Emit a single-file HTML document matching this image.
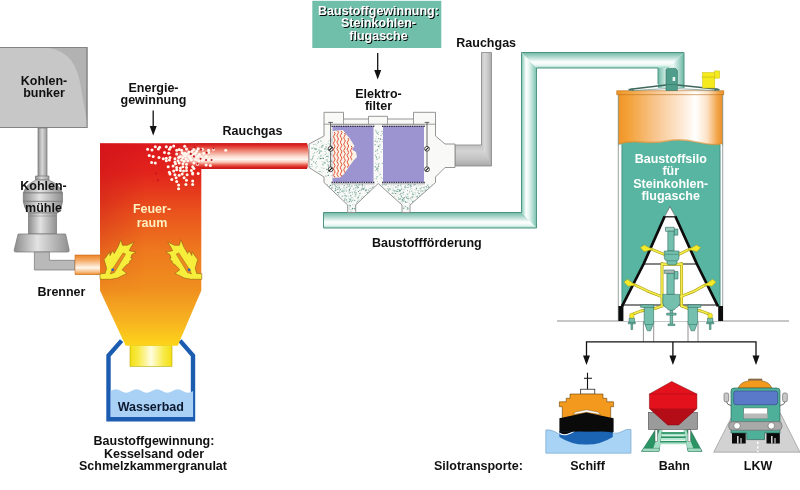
<!DOCTYPE html>
<html lang="de"><head><meta charset="utf-8"><title>Kraftwerk Schema</title>
<style>
html,body{margin:0;padding:0;background:#fff}
svg{display:block;opacity:.999}
text{font-family:"Liberation Sans",sans-serif;font-weight:bold;font-size:12.5px;fill:#111}
.c{text-anchor:middle}
</style></head><body>
<svg width="800" height="490" viewBox="0 0 800 490">
<defs>
<linearGradient id="gShaft" x1="0" x2="1" y1="0" y2="0"><stop offset="0" stop-color="#8e8e8e"/><stop offset=".45" stop-color="#d8d8d8"/><stop offset="1" stop-color="#9a9a9a"/></linearGradient>
<linearGradient id="gMill" x1="0" x2="1" y1="0" y2="0"><stop offset="0" stop-color="#8c8c8c"/><stop offset=".42" stop-color="#e2e2e2"/><stop offset="1" stop-color="#909090"/></linearGradient>
<linearGradient id="gPipeH" x1="0" x2="0" y1="0" y2="1"><stop offset="0" stop-color="#9a9a9a"/><stop offset=".4" stop-color="#d0d0d0"/><stop offset="1" stop-color="#9a9a9a"/></linearGradient>
<linearGradient id="gBurn" x1="0" x2="0" y1="0" y2="1"><stop offset="0" stop-color="#ee8424"/><stop offset=".3" stop-color="#f6b070"/><stop offset=".65" stop-color="#fff6ec"/><stop offset=".85" stop-color="#f8c088"/><stop offset="1" stop-color="#ee8a2a"/></linearGradient>
<linearGradient id="gFire" x1="0" x2="0" y1="0" y2="1"><stop offset="0" stop-color="#dc181c"/><stop offset=".147" stop-color="#e2241c"/><stop offset=".345" stop-color="#ea541d"/><stop offset=".537" stop-color="#ee7a1e"/><stop offset=".725" stop-color="#f0901f"/><stop offset=".873" stop-color="#f7b220"/><stop offset="1" stop-color="#fdd41a"/></linearGradient>
<linearGradient id="gFireL" x1="0" x2="1" y1="0" y2="0"><stop offset="0" stop-color="#c8101a" stop-opacity=".4"/><stop offset=".45" stop-color="#c8101a" stop-opacity="0"/></linearGradient>
<linearGradient id="gDuct" x1="0" x2="0" y1="0" y2="1"><stop offset="0" stop-color="#c8181a"/><stop offset=".08" stop-color="#de2824"/><stop offset=".3" stop-color="#ee8a78"/><stop offset=".5" stop-color="#fbd8cc"/><stop offset=".63" stop-color="#fff4ee"/><stop offset=".74" stop-color="#f8c4b6"/><stop offset=".84" stop-color="#e8604e"/><stop offset=".93" stop-color="#d82220"/><stop offset="1" stop-color="#c41818"/></linearGradient>
<linearGradient id="gDuctFade" x1="0" x2="1" y1="0" y2="0"><stop offset="0" stop-color="#fff" stop-opacity="0"/><stop offset="1" stop-color="#fff" stop-opacity="1"/></linearGradient>
<linearGradient id="gFadeV" x1="0" x2="0" y1="0" y2="1"><stop offset="0" stop-color="#fff"/><stop offset=".3" stop-color="#fff"/><stop offset=".75" stop-color="#000"/></linearGradient><mask id="mFireL"><rect x="90" y="140" width="125" height="210" fill="url(#gFadeV)"/></mask><mask id="mDuct"><rect x="174" y="140" width="28" height="32" fill="url(#gDuctFade)"/><rect x="201.5" y="140" width="120" height="32" fill="#fff"/></mask>
<linearGradient id="gNeck" x1="0" x2="1" y1="0" y2="0"><stop offset="0" stop-color="#f3df14"/><stop offset=".2" stop-color="#f8ea48"/><stop offset=".5" stop-color="#fffde0"/><stop offset=".8" stop-color="#f8ea48"/><stop offset="1" stop-color="#f3df14"/></linearGradient>
</defs>
<rect width="800" height="490" fill="#fff"/>

<!-- Kohlenbunker -->
<g id="bunker">
<rect x="-1" y="47.5" width="88" height="80" fill="#b2b2b2" stroke="#848484" stroke-width="1"/>
<path d="M0,48 H49 Q62,50 71,60 Q78.5,70 81.6,91 L87,122 V127.5 H0 Z" fill="#c7c7c7"/>
<rect x="-1" y="47.5" width="88" height="80" fill="none" stroke="#848484" stroke-width="1"/>
<text class="c" x="44" y="85.3">Kohlen-</text>
<text class="c" x="44" y="96.8">bunker</text>
</g>

<!-- Kohlenmuehle -->
<g id="muehle" stroke="#767676" stroke-width=".7" stroke-linejoin="round">
<rect x="38" y="128" width="9" height="49" fill="url(#gShaft)"/>
<rect x="35.5" y="176" width="13.5" height="4" fill="url(#gShaft)"/>
<path d="M36.5,180 H48 Q59,183.5 62.5,193 H23.3 Q26.5,183.5 36.5,180 Z" fill="url(#gMill)"/>
<rect x="23.3" y="193" width="39.2" height="8.4" fill="url(#gMill)"/>
<path d="M23.3,201.4 H62.5 Q62,208 57.8,213 H28.5 Q24,208 23.3,201.4 Z" fill="url(#gMill)"/>
<rect x="28.5" y="213" width="28" height="21" fill="url(#gMill)"/>
<path d="M28.5,216 H56.5" fill="none" stroke-width=".5"/>
<path d="M18.1,234 H65.6 L69.2,250 Q69.6,252 67.6,252 H15.8 Q13.8,252 14.2,250 Z" fill="url(#gMill)"/>
<path d="M34.4,252 V270 H75 V260.3 H49.4 V252 Z" fill="#b9b9b9"/>
</g>
<text class="c" x="43.5" y="190">Kohlen-</text>
<text class="c" x="43.5" y="212">mühle</text>
<rect x="75" y="255" width="25.5" height="19.7" fill="url(#gBurn)" stroke="#b86010" stroke-width=".5"/>
<text x="37.5" y="296">Brenner</text>

<!-- Wasserbad -->
<g id="wasserbad">
<path d="M121.6,340.6 L108.5,355.5 V419.2 H193 V355.5 L180,340.6" fill="#fff" stroke="#1b5cb0" stroke-width="4.4" stroke-linejoin="miter"/>
<path d="M110.7,391 q5.2,-3.6 10.3,0 t10.3,0 t10.3,0 t10.3,0 t10.3,0 t10.3,0 t10.3,0 t10.3,0 V417 H110.7 Z" fill="#a9d1f5"/>
<rect x="130" y="345.7" width="42" height="20.6" fill="url(#gNeck)" stroke="#b8a800" stroke-width=".6"/>
<text class="c" x="150.8" y="410.6" style="fill:#0c1830">Wasserbad</text>
</g>
<!-- Feuerraum -->
<g id="feuerraum">
<path id="fshape" d="M100,143.3 H307 Q310.5,156 307,169 H201.3 V290.5 L177.7,345.7 H125.7 L100,290.5 Z" fill="url(#gFire)"/>
<path d="M100,143.3 H201.3 V290.5 L177.7,345.7 H125.7 L100,290.5 Z" fill="url(#gFireL)" mask="url(#mFireL)"/>
<path d="M172,143.3 H307 Q310.5,156 307,169 H201.3 V168 H172 Z" fill="url(#gDuct)" mask="url(#mDuct)"/>
<defs><radialGradient id="gGlow"><stop offset="0" stop-color="#fff" stop-opacity=".75"/><stop offset="1" stop-color="#fff" stop-opacity="0"/></radialGradient></defs>
<ellipse cx="190" cy="156" rx="14" ry="7" fill="url(#gGlow)"/>
<!-- Particles -->
<g id="particles" fill="#fff8ee">
<circle cx="155.3" cy="146.8" r="1.5"/>
<circle cx="159.6" cy="147.2" r="1.5"/>
<circle cx="166.3" cy="146.8" r="1.5"/>
<circle cx="170.6" cy="147.2" r="1.5"/>
<circle cx="173.7" cy="146.0" r="1.5"/>
<circle cx="184.7" cy="146.3" r="1.5"/>
<circle cx="147.6" cy="149.3" r="1.5"/>
<circle cx="152.0" cy="150.0" r="1.5"/>
<circle cx="158.4" cy="149.0" r="1.5"/>
<circle cx="169.4" cy="149.3" r="1.5"/>
<circle cx="176.7" cy="150.2" r="1.5"/>
<circle cx="179.2" cy="149.6" r="1.5"/>
<circle cx="186.5" cy="149.0" r="1.5"/>
<circle cx="193.9" cy="149.6" r="1.5"/>
<circle cx="198.2" cy="148.8" r="1.5"/>
<circle cx="202.4" cy="149.3" r="1.5"/>
<circle cx="208.6" cy="150.2" r="1.5"/>
<circle cx="213.5" cy="149.3" r="1.5"/>
<circle cx="225.7" cy="150.2" r="1.5"/>
<circle cx="164.5" cy="152.4" r="1.5"/>
<circle cx="168.8" cy="153.3" r="1.5"/>
<circle cx="182.2" cy="152.7" r="1.5"/>
<circle cx="184.7" cy="153.3" r="1.5"/>
<circle cx="189.0" cy="152.1" r="1.5"/>
<circle cx="195.7" cy="152.7" r="1.5"/>
<circle cx="203.7" cy="153.3" r="1.5"/>
<circle cx="208.6" cy="152.4" r="1.5"/>
<circle cx="149.2" cy="155.4" r="1.5"/>
<circle cx="153.2" cy="156.4" r="1.5"/>
<circle cx="159.0" cy="157.6" r="1.5"/>
<circle cx="163.3" cy="158.8" r="1.5"/>
<circle cx="166.3" cy="158.2" r="1.5"/>
<circle cx="170.0" cy="157.6" r="1.5"/>
<circle cx="174.9" cy="158.8" r="1.5"/>
<circle cx="180.4" cy="156.4" r="1.5"/>
<circle cx="185.3" cy="155.8" r="1.5"/>
<circle cx="189.0" cy="156.4" r="1.5"/>
<circle cx="192.7" cy="155.1" r="1.5"/>
<circle cx="197.5" cy="156.4" r="1.5"/>
<circle cx="201.2" cy="157.6" r="1.5"/>
<circle cx="206.1" cy="156.4" r="1.5"/>
<circle cx="166.3" cy="160.7" r="1.5"/>
<circle cx="169.4" cy="160.0" r="1.5"/>
<circle cx="174.9" cy="161.9" r="1.5"/>
<circle cx="178.0" cy="160.7" r="1.5"/>
<circle cx="181.6" cy="160.0" r="1.5"/>
<circle cx="184.1" cy="161.3" r="1.5"/>
<circle cx="187.8" cy="160.7" r="1.5"/>
<circle cx="191.4" cy="160.0" r="1.5"/>
<circle cx="195.7" cy="159.4" r="1.5"/>
<circle cx="198.8" cy="160.7" r="1.5"/>
<circle cx="202.4" cy="160.0" r="1.5"/>
<circle cx="208.6" cy="159.4" r="1.5"/>
<circle cx="212.2" cy="160.0" r="1.5"/>
<circle cx="151.6" cy="162.5" r="1.5"/>
<circle cx="155.3" cy="163.1" r="1.5"/>
<circle cx="175.5" cy="163.7" r="1.5"/>
<circle cx="179.2" cy="163.1" r="1.5"/>
<circle cx="182.9" cy="163.7" r="1.5"/>
<circle cx="186.5" cy="164.3" r="1.5"/>
<circle cx="193.9" cy="163.1" r="1.5"/>
<circle cx="197.5" cy="164.3" r="1.5"/>
<circle cx="168.2" cy="166.8" r="1.5"/>
<circle cx="173.1" cy="165.9" r="1.5"/>
<circle cx="176.7" cy="167.4" r="1.5"/>
<circle cx="180.4" cy="168.0" r="1.5"/>
<circle cx="182.9" cy="166.8" r="1.5"/>
<circle cx="186.5" cy="167.4" r="1.5"/>
<circle cx="192.7" cy="166.8" r="1.5"/>
<circle cx="193.9" cy="168.6" r="1.5"/>
<circle cx="206.1" cy="164.9" r="1.5"/>
<circle cx="210.4" cy="165.5" r="1.5"/>
<circle cx="169.4" cy="172.3" r="1.5"/>
<circle cx="173.7" cy="171.1" r="1.5"/>
<circle cx="176.7" cy="169.8" r="1.5"/>
<circle cx="180.4" cy="170.4" r="1.5"/>
<circle cx="183.5" cy="171.1" r="1.5"/>
<circle cx="186.5" cy="170.4" r="1.5"/>
<circle cx="191.4" cy="170.4" r="1.5"/>
<circle cx="192.7" cy="172.9" r="1.5"/>
<circle cx="198.2" cy="173.5" r="1.5"/>
<circle cx="170.0" cy="174.1" r="1.5"/>
<circle cx="174.9" cy="174.7" r="1.5"/>
<circle cx="179.2" cy="175.3" r="1.5"/>
<circle cx="182.2" cy="174.1" r="1.5"/>
<circle cx="187.1" cy="174.7" r="1.5"/>
<circle cx="192.7" cy="174.1" r="1.5"/>
<circle cx="171.8" cy="179.6" r="1.5"/>
<circle cx="176.1" cy="177.8" r="1.5"/>
<circle cx="176.7" cy="181.5" r="1.5"/>
<circle cx="184.1" cy="177.8" r="1.5"/>
<circle cx="186.5" cy="180.2" r="1.5"/>
<circle cx="192.7" cy="180.9" r="1.5"/>
<circle cx="178.6" cy="185.1" r="1.5"/>
<circle cx="178.6" cy="188.8" r="1.5"/>
<circle cx="185.9" cy="184.5" r="1.5"/>
<circle cx="192.7" cy="184.5" r="1.5"/>
<circle cx="181.6" cy="150.2" r="1.5"/>
<circle cx="183.5" cy="154.5" r="1.5"/>
<circle cx="187.1" cy="153.9" r="1.5"/>
<circle cx="190.2" cy="158.2" r="1.5"/>
<circle cx="192.0" cy="151.5" r="1.5"/>
<circle cx="194.5" cy="153.9" r="1.5"/>
<circle cx="196.9" cy="150.9" r="1.5"/>
<circle cx="199.4" cy="154.5" r="1.5"/>
<circle cx="182.9" cy="157.6" r="1.5"/>
<circle cx="185.9" cy="158.8" r="1.5"/>
<circle cx="176.7" cy="153.9" r="1.5"/>
<circle cx="178.6" cy="157.6" r="1.5"/>
</g><g fill="#c4141a">
<circle cx="190.2" cy="149.6" r="1.05"/>
<circle cx="194.5" cy="147.2" r="1.05"/>
<circle cx="201.2" cy="149.6" r="1.05"/>
<circle cx="206.7" cy="152.7" r="1.05"/>
<circle cx="213.5" cy="148.4" r="1.05"/>
<circle cx="211.6" cy="160.0" r="1.05"/>
<circle cx="206.1" cy="160.0" r="1.05"/>
<circle cx="200.6" cy="158.8" r="1.05"/>
<circle cx="193.9" cy="156.4" r="1.05"/>
<circle cx="190.8" cy="153.9" r="1.05"/>
<circle cx="197.5" cy="163.7" r="1.05"/>
<circle cx="157.8" cy="180.2" r="1.05"/>
<circle cx="155.9" cy="173.5" r="1.05"/>
</g>
<!-- Flames -->
<g id="flameL">
<path d="M100.0,273.7 L105.1,273.5 L106.6,268.4 L105.1,263.0 L104.1,259.5 L106.8,256.1 L109.6,251.7 L110.0,255.6 L112.7,250.7 L114.2,253.6 L118.1,246.8 L121.0,239.7 L122.3,245.3 L127.4,245.3 L134.1,242.1 L130.8,247.3 L129.2,250.7 L136.0,252.2 L131.8,254.6 L130.8,258.1 L132.5,258.7 L129.2,261.7 L129.9,262.7 L125.9,265.4 L122.0,269.8 L126.9,273.5 L123.0,275.2 L117.6,278.0 L110.7,279.3 L100.0,279.3 Z" fill="#f7ee3c" stroke="#8a5a14" stroke-width=".55" stroke-linejoin="round"/>
<path d="M123.0,252.9 L125.6,254.1 L114.5,272.5 L110.3,274.0 L111.7,270.3 Z" fill="#ef8a20" stroke="#8a5a14" stroke-width=".45"/>
<circle cx="112.7" cy="269.8" r="1.4" fill="#2f62b8"/>
</g>
<use href="#flameL" transform="translate(301.8,0) scale(-1,1)"/>
<text class="c" x="152" y="213" style="fill:#fff0c0">Feuer-</text>
<text class="c" x="152" y="227" style="fill:#fff0c0">raum</text>
</g>

<!-- Wasserbad -->

<text class="c" x="154" y="444.5">Baustoffgewinnung:</text>
<text class="c" x="154" y="457.5">Kesselsand oder</text>
<text class="c" x="153" y="470">Schmelzkammergranulat</text>

<text class="c" x="153.5" y="92">Energie-</text>
<text class="c" x="153.5" y="103.5">gewinnung</text>
<path d="M153.2,110.5 V128" stroke="#111" stroke-width="1.3"/><path d="M149.7,126 L153.2,135.5 L156.7,126 Z" fill="#111"/>
<text x="222.6" y="135">Rauchgas</text>

<defs>
<linearGradient id="gStack" x1="0" x2="1" y1="0" y2="0"><stop offset="0" stop-color="#c2c2c2"/><stop offset=".3" stop-color="#d8d8d8"/><stop offset=".65" stop-color="#c8c8c8"/><stop offset="1" stop-color="#a9a9a9"/></linearGradient>
<linearGradient id="gStackH" x1="0" x2="0" y1="0" y2="1"><stop offset="0" stop-color="#c2c2c2"/><stop offset=".3" stop-color="#d4d4d4"/><stop offset=".65" stop-color="#c4c4c4"/><stop offset="1" stop-color="#a9a9a9"/></linearGradient>
<linearGradient id="gTealH" x1="0" x2="0" y1="0" y2="1"><stop offset="0" stop-color="#6db8a5"/><stop offset=".62" stop-color="#ffffff"/><stop offset=".82" stop-color="#e9f7f3"/><stop offset="1" stop-color="#9bd6c6"/></linearGradient>
<linearGradient id="gTealV" x1="0" x2="1" y1="0" y2="0"><stop offset="0" stop-color="#7cc4b1"/><stop offset=".3" stop-color="#ffffff"/><stop offset=".5" stop-color="#e6f6f1"/><stop offset="1" stop-color="#78c2ae"/></linearGradient>
<linearGradient id="gTealV2" x1="0" x2="1" y1="0" y2="0"><stop offset="0" stop-color="#6db8a5"/><stop offset=".3" stop-color="#d4eee7"/><stop offset=".6" stop-color="#e6f6f1"/><stop offset="1" stop-color="#6db8a5"/></linearGradient>
</defs>
<!-- Teal info box -->
<g id="infobox">
<rect x="312.3" y="0.8" width="129" height="47.2" fill="#70bfaa"/>
<text class="c" x="379.5" y="15.5" style="fill:#050606">Baustoffgewinnung:</text>
<text class="c" x="379.5" y="28.2" style="fill:#050606">Steinkohlen-</text>
<text class="c" x="379.5" y="40.5" style="fill:#050606">flugasche</text>
<text class="c" x="378.5" y="14.5" style="fill:#fff">Baustoffgewinnung:</text>
<text class="c" x="378.5" y="27.2" style="fill:#fff">Steinkohlen-</text>
<text class="c" x="378.5" y="39.5" style="fill:#fff">flugasche</text>
</g>
<path d="M377.7,53 V72" stroke="#111" stroke-width="1.3"/><path d="M374.2,70 L377.7,79.5 L381.2,70 Z" fill="#111"/>
<text class="c" x="378.5" y="97.5">Elektro-</text>
<text class="c" x="378.5" y="109.8">filter</text>
<text x="456.3" y="47">Rauchgas</text>
<text x="372" y="246.5">Baustoffförderung</text>

<!-- Grey stack -->
<g id="stack">
<rect x="481.5" y="52.5" width="10" height="113.5" fill="url(#gStack)"/>
<path d="M455,145 H481.5 L491.5,166 H455 Z" fill="url(#gStackH)"/>
<path d="M481.5,52.5 H491.5 V166 H455 V145 H481.5 Z" fill="none" stroke="#858585" stroke-width=".8"/>
</g>

<!-- Teal conveying pipe -->
<g id="pipe">
<path d="M323.5,212.5 H521.5 L536.5,228 H323.5 Z" fill="url(#gTealH)"/>
<path d="M521.5,52.5 L536.5,68 V228 L521.5,212.5 Z" fill="url(#gTealV)"/>
<path d="M521.5,52.5 H684 L668.5,68 H536.5 Z" fill="url(#gTealH)"/>
<path d="M684,52.5 V88 H658 V68 H668.5 Z" fill="url(#gTealV2)"/>
<path d="M684,88 V52.5 H521.5 V212.5 H323.5 V228 H536.5 V68 H658 V84" fill="none" stroke="#4f9482" stroke-width="1"/>
</g>
<!--FILTER-->
<!-- Elektrofilter -->
<g id="efilter">
<path d="M309,144 L324,136 V112.3 H343.5 V119 H368.5 V116.3 H387.5 V119 H413.5 V112.3 H435.5 V136 L445,144 H455 V167.5 H445 L435.5,177 V182.5 L410,205 V212.5 H402 V205 L378.2,183.5 L355.7,205 V212.5 H347.7 V205 L324,182.5 V177 L309,167.5 Z" fill="#f9f9f7" stroke="#8a8a8a" stroke-width=".9" stroke-linejoin="miter"/>
<path d="M324,124.2 H435.5 M343.5,119 V124.2 M413.5,119 V124.2 M368.5,119 V124.2 M387.5,119 V124.2" stroke="#8a8a8a" stroke-width=".8" fill="none"/>
<rect x="317.1" y="143.3" width="0.7" height="0.7" fill="#7fb0a3"/><rect x="328.1" y="141.1" width="0.7" height="0.7" fill="#b5d3cb"/><rect x="330.0" y="145.8" width="1.0" height="1.0" fill="#7fb0a3"/><rect x="319.2" y="146.8" width="1.0" height="1.0" fill="#b5d3cb"/><rect x="311.3" y="159.3" width="1.1" height="1.1" fill="#6a9e90"/><rect x="330.8" y="159.7" width="0.7" height="0.7" fill="#5a8c80"/><rect x="331.5" y="139.3" width="0.9" height="0.9" fill="#6a9e90"/><rect x="319.2" y="158.3" width="0.9" height="0.9" fill="#b5d3cb"/><rect x="322.3" y="163.8" width="1.1" height="1.1" fill="#7fb0a3"/><rect x="322.6" y="144.7" width="1.1" height="1.1" fill="#7fb0a3"/><rect x="325.7" y="159.2" width="0.8" height="0.8" fill="#b5d3cb"/><rect x="320.9" y="158.0" width="1.0" height="1.0" fill="#a3c9be"/><rect x="322.9" y="154.9" width="0.8" height="0.8" fill="#a3c9be"/><rect x="327.5" y="164.4" width="0.7" height="0.7" fill="#6a9e90"/><rect x="322.6" y="157.7" width="1.0" height="1.0" fill="#a3c9be"/><rect x="312.6" y="153.6" width="0.8" height="0.8" fill="#a3c9be"/><rect x="330.5" y="153.7" width="1.1" height="1.1" fill="#7fb0a3"/><rect x="322.6" y="171.2" width="0.9" height="0.9" fill="#a3c9be"/><rect x="325.3" y="160.4" width="1.0" height="1.0" fill="#b5d3cb"/><rect x="315.9" y="164.3" width="0.7" height="0.7" fill="#7fb0a3"/><rect x="326.1" y="149.4" width="1.0" height="1.0" fill="#b5d3cb"/><rect x="316.3" y="152.4" width="0.7" height="0.7" fill="#a3c9be"/><rect x="330.7" y="151.2" width="0.7" height="0.7" fill="#b5d3cb"/><rect x="320.9" y="145.9" width="0.8" height="0.8" fill="#a3c9be"/><rect x="326.2" y="152.8" width="0.7" height="0.7" fill="#5a8c80"/><rect x="313.7" y="153.0" width="0.8" height="0.8" fill="#a3c9be"/><rect x="328.0" y="170.8" width="1.0" height="1.0" fill="#a3c9be"/><rect x="331.7" y="163.8" width="0.8" height="0.8" fill="#5a8c80"/><rect x="313.3" y="144.3" width="0.8" height="0.8" fill="#6a9e90"/><rect x="314.0" y="148.4" width="1.0" height="1.0" fill="#6a9e90"/><rect x="321.8" y="161.0" width="0.8" height="0.8" fill="#a3c9be"/><rect x="325.2" y="157.3" width="0.7" height="0.7" fill="#b5d3cb"/><rect x="320.0" y="171.0" width="1.0" height="1.0" fill="#b5d3cb"/><rect x="318.8" y="152.7" width="1.0" height="1.0" fill="#5a8c80"/><rect x="314.6" y="143.7" width="1.1" height="1.1" fill="#a3c9be"/><rect x="329.2" y="161.1" width="0.9" height="0.9" fill="#6a9e90"/><rect x="331.0" y="160.7" width="0.7" height="0.7" fill="#5a8c80"/><rect x="312.5" y="156.3" width="1.0" height="1.0" fill="#5a8c80"/><rect x="320.6" y="140.8" width="0.9" height="0.9" fill="#7fb0a3"/><rect x="326.3" y="155.9" width="1.1" height="1.1" fill="#6a9e90"/><rect x="321.6" y="143.1" width="0.7" height="0.7" fill="#b5d3cb"/><rect x="326.7" y="149.0" width="0.9" height="0.9" fill="#7fb0a3"/><rect x="321.4" y="172.5" width="0.8" height="0.8" fill="#a3c9be"/><rect x="321.7" y="167.5" width="0.8" height="0.8" fill="#a3c9be"/><rect x="323.5" y="167.9" width="0.8" height="0.8" fill="#6a9e90"/><rect x="328.0" y="166.0" width="0.8" height="0.8" fill="#6a9e90"/><rect x="321.4" y="151.2" width="0.7" height="0.7" fill="#7fb0a3"/><rect x="327.4" y="155.7" width="1.1" height="1.1" fill="#6a9e90"/><rect x="331.0" y="154.7" width="0.9" height="0.9" fill="#a3c9be"/><rect x="320.3" y="150.5" width="1.1" height="1.1" fill="#5a8c80"/><rect x="331.7" y="161.0" width="1.0" height="1.0" fill="#7fb0a3"/><rect x="330.0" y="150.7" width="0.7" height="0.7" fill="#7fb0a3"/><rect x="330.0" y="167.6" width="1.0" height="1.0" fill="#6a9e90"/><rect x="329.6" y="154.2" width="0.7" height="0.7" fill="#a3c9be"/><rect x="327.6" y="174.9" width="1.0" height="1.0" fill="#5a8c80"/><rect x="325.9" y="144.0" width="0.7" height="0.7" fill="#6a9e90"/><rect x="327.7" y="143.1" width="1.0" height="1.0" fill="#b5d3cb"/><rect x="324.5" y="151.0" width="1.1" height="1.1" fill="#b5d3cb"/><rect x="331.4" y="162.5" width="0.8" height="0.8" fill="#b5d3cb"/><rect x="319.5" y="171.1" width="0.7" height="0.7" fill="#6a9e90"/><rect x="315.5" y="148.8" width="1.1" height="1.1" fill="#6a9e90"/><rect x="317.2" y="158.5" width="0.7" height="0.7" fill="#6a9e90"/><rect x="330.0" y="151.1" width="1.1" height="1.1" fill="#5a8c80"/><rect x="327.9" y="157.4" width="0.8" height="0.8" fill="#b5d3cb"/><rect x="321.7" y="157.7" width="1.0" height="1.0" fill="#7fb0a3"/><rect x="327.1" y="160.9" width="0.8" height="0.8" fill="#6a9e90"/><rect x="313.1" y="161.3" width="1.1" height="1.1" fill="#7fb0a3"/><rect x="311.4" y="163.8" width="1.1" height="1.1" fill="#b5d3cb"/><rect x="320.6" y="167.4" width="0.7" height="0.7" fill="#b5d3cb"/><rect x="315.5" y="148.2" width="1.1" height="1.1" fill="#7fb0a3"/><rect x="329.7" y="139.9" width="1.1" height="1.1" fill="#a3c9be"/><rect x="331.4" y="160.8" width="0.9" height="0.9" fill="#6a9e90"/><rect x="320.0" y="158.0" width="1.1" height="1.1" fill="#5a8c80"/><rect x="330.7" y="164.4" width="1.1" height="1.1" fill="#a3c9be"/><rect x="329.6" y="145.3" width="0.8" height="0.8" fill="#5a8c80"/><rect x="319.2" y="152.6" width="0.7" height="0.7" fill="#a3c9be"/><rect x="324.8" y="154.0" width="0.9" height="0.9" fill="#6a9e90"/><rect x="327.2" y="172.0" width="0.9" height="0.9" fill="#6a9e90"/><rect x="331.3" y="146.0" width="1.0" height="1.0" fill="#7fb0a3"/><rect x="329.5" y="143.8" width="0.8" height="0.8" fill="#6a9e90"/><rect x="325.5" y="175.8" width="0.9" height="0.9" fill="#5a8c80"/><rect x="319.3" y="151.2" width="0.9" height="0.9" fill="#7fb0a3"/><rect x="310.4" y="158.8" width="0.7" height="0.7" fill="#5a8c80"/><rect x="318.5" y="157.4" width="1.1" height="1.1" fill="#a3c9be"/><rect x="331.1" y="141.8" width="0.7" height="0.7" fill="#6a9e90"/><rect x="311.8" y="148.0" width="0.9" height="0.9" fill="#6a9e90"/><rect x="326.6" y="169.1" width="1.0" height="1.0" fill="#a3c9be"/><rect x="322.6" y="164.5" width="0.9" height="0.9" fill="#7fb0a3"/><rect x="311.3" y="164.0" width="0.7" height="0.7" fill="#5a8c80"/><rect x="311.9" y="147.5" width="0.8" height="0.8" fill="#b5d3cb"/><rect x="320.0" y="150.6" width="1.0" height="1.0" fill="#b5d3cb"/><rect x="330.4" y="147.8" width="0.7" height="0.7" fill="#6a9e90"/><rect x="321.6" y="146.7" width="0.8" height="0.8" fill="#7fb0a3"/><rect x="315.8" y="144.5" width="0.9" height="0.9" fill="#a3c9be"/><rect x="321.7" y="145.4" width="1.1" height="1.1" fill="#5a8c80"/><rect x="324.8" y="147.9" width="0.9" height="0.9" fill="#7fb0a3"/><rect x="321.3" y="147.0" width="0.7" height="0.7" fill="#5a8c80"/><rect x="324.5" y="162.5" width="1.1" height="1.1" fill="#5a8c80"/><rect x="328.4" y="152.6" width="0.9" height="0.9" fill="#b5d3cb"/><rect x="325.1" y="175.3" width="0.8" height="0.8" fill="#a3c9be"/><rect x="328.3" y="164.7" width="1.0" height="1.0" fill="#6a9e90"/><rect x="331.8" y="175.3" width="0.7" height="0.7" fill="#6a9e90"/><rect x="311.6" y="166.0" width="1.0" height="1.0" fill="#a3c9be"/><rect x="328.5" y="171.0" width="1.1" height="1.1" fill="#a3c9be"/><rect x="315.3" y="148.8" width="0.8" height="0.8" fill="#5a8c80"/><rect x="313.5" y="154.7" width="0.9" height="0.9" fill="#a3c9be"/><rect x="331.2" y="174.9" width="0.9" height="0.9" fill="#b5d3cb"/><rect x="316.8" y="151.2" width="0.9" height="0.9" fill="#7fb0a3"/><rect x="318.4" y="155.8" width="0.8" height="0.8" fill="#b5d3cb"/><rect x="315.5" y="167.4" width="0.9" height="0.9" fill="#7fb0a3"/><rect x="328.0" y="143.0" width="0.7" height="0.7" fill="#b5d3cb"/><rect x="318.7" y="149.0" width="0.7" height="0.7" fill="#6a9e90"/><rect x="322.9" y="157.9" width="1.1" height="1.1" fill="#6a9e90"/><rect x="318.6" y="150.1" width="0.8" height="0.8" fill="#5a8c80"/><rect x="316.3" y="161.3" width="0.7" height="0.7" fill="#6a9e90"/><rect x="328.1" y="165.0" width="1.0" height="1.0" fill="#b5d3cb"/><rect x="326.1" y="168.8" width="1.1" height="1.1" fill="#6a9e90"/><rect x="326.6" y="159.4" width="1.1" height="1.1" fill="#7fb0a3"/><rect x="327.6" y="164.9" width="0.7" height="0.7" fill="#6a9e90"/><rect x="317.9" y="141.5" width="1.1" height="1.1" fill="#5a8c80"/><rect x="321.7" y="146.9" width="0.7" height="0.7" fill="#a3c9be"/><rect x="320.1" y="140.2" width="1.1" height="1.1" fill="#b5d3cb"/><rect x="312.0" y="157.8" width="0.9" height="0.9" fill="#5a8c80"/><rect x="327.8" y="170.1" width="0.8" height="0.8" fill="#6a9e90"/><rect x="315.1" y="162.5" width="1.0" height="1.0" fill="#5a8c80"/><rect x="328.6" y="140.5" width="0.7" height="0.7" fill="#a3c9be"/><rect x="323.6" y="162.2" width="1.1" height="1.1" fill="#7fb0a3"/><rect x="313.2" y="147.3" width="1.1" height="1.1" fill="#a3c9be"/><rect x="311.3" y="147.8" width="0.8" height="0.8" fill="#7fb0a3"/><rect x="324.9" y="148.7" width="0.9" height="0.9" fill="#b5d3cb"/><rect x="320.2" y="155.5" width="1.1" height="1.1" fill="#7fb0a3"/><rect x="330.6" y="138.2" width="0.7" height="0.7" fill="#5a8c80"/><rect x="328.0" y="174.8" width="0.9" height="0.9" fill="#5a8c80"/><rect x="330.5" y="140.4" width="0.8" height="0.8" fill="#7fb0a3"/><rect x="326.4" y="147.6" width="0.8" height="0.8" fill="#a3c9be"/><rect x="323.3" y="161.8" width="0.7" height="0.7" fill="#a3c9be"/><rect x="325.5" y="146.4" width="1.0" height="1.0" fill="#5a8c80"/><rect x="320.8" y="154.9" width="0.8" height="0.8" fill="#a3c9be"/><rect x="319.2" y="152.0" width="0.9" height="0.9" fill="#7fb0a3"/><rect x="310.0" y="166.4" width="0.7" height="0.7" fill="#5a8c80"/><rect x="330.7" y="145.0" width="0.9" height="0.9" fill="#7fb0a3"/><rect x="318.6" y="171.0" width="0.9" height="0.9" fill="#7fb0a3"/><rect x="330.4" y="166.6" width="0.9" height="0.9" fill="#7fb0a3"/><rect x="315.5" y="147.7" width="0.9" height="0.9" fill="#b5d3cb"/><rect x="314.2" y="151.9" width="0.7" height="0.7" fill="#5a8c80"/><rect x="327.9" y="161.8" width="1.1" height="1.1" fill="#b5d3cb"/><rect x="330.5" y="153.3" width="0.8" height="0.8" fill="#b5d3cb"/><rect x="324.2" y="148.5" width="1.1" height="1.1" fill="#7fb0a3"/><rect x="312.8" y="155.7" width="0.9" height="0.9" fill="#a3c9be"/><rect x="316.6" y="166.0" width="1.0" height="1.0" fill="#a3c9be"/>
<rect x="379.4" y="144.2" width="1.0" height="1.0" fill="#b5d3cb"/><rect x="375.4" y="162.7" width="0.8" height="0.8" fill="#7fb0a3"/><rect x="378.3" y="171.8" width="0.8" height="0.8" fill="#b5d3cb"/><rect x="377.9" y="146.0" width="1.0" height="1.0" fill="#5a8c80"/><rect x="375.5" y="138.4" width="0.8" height="0.8" fill="#7fb0a3"/><rect x="377.1" y="132.9" width="0.9" height="0.9" fill="#6a9e90"/><rect x="376.4" y="158.8" width="1.0" height="1.0" fill="#7fb0a3"/><rect x="377.4" y="168.3" width="1.0" height="1.0" fill="#6a9e90"/><rect x="376.5" y="168.6" width="0.9" height="0.9" fill="#5a8c80"/><rect x="378.8" y="147.4" width="1.1" height="1.1" fill="#b5d3cb"/><rect x="379.2" y="174.6" width="0.7" height="0.7" fill="#6a9e90"/><rect x="376.5" y="141.4" width="1.0" height="1.0" fill="#5a8c80"/><rect x="377.7" y="144.8" width="0.8" height="0.8" fill="#7fb0a3"/><rect x="374.7" y="166.3" width="1.1" height="1.1" fill="#5a8c80"/><rect x="378.2" y="131.9" width="1.0" height="1.0" fill="#b5d3cb"/><rect x="381.8" y="141.4" width="0.8" height="0.8" fill="#7fb0a3"/><rect x="375.7" y="156.2" width="1.0" height="1.0" fill="#7fb0a3"/><rect x="375.1" y="170.0" width="0.8" height="0.8" fill="#7fb0a3"/><rect x="376.2" y="177.7" width="0.8" height="0.8" fill="#a3c9be"/><rect x="379.2" y="156.5" width="0.7" height="0.7" fill="#5a8c80"/><rect x="375.2" y="144.2" width="0.8" height="0.8" fill="#b5d3cb"/><rect x="377.4" y="140.1" width="0.7" height="0.7" fill="#b5d3cb"/><rect x="374.6" y="144.3" width="0.9" height="0.9" fill="#5a8c80"/><rect x="381.7" y="162.8" width="1.0" height="1.0" fill="#6a9e90"/><rect x="378.4" y="157.5" width="1.0" height="1.0" fill="#7fb0a3"/><rect x="379.8" y="144.6" width="0.8" height="0.8" fill="#7fb0a3"/><rect x="378.2" y="164.4" width="0.7" height="0.7" fill="#5a8c80"/><rect x="376.4" y="164.0" width="0.8" height="0.8" fill="#a3c9be"/><rect x="378.2" y="165.6" width="0.9" height="0.9" fill="#5a8c80"/><rect x="379.6" y="138.7" width="1.1" height="1.1" fill="#a3c9be"/><rect x="375.0" y="154.8" width="0.9" height="0.9" fill="#6a9e90"/><rect x="380.2" y="138.5" width="0.8" height="0.8" fill="#5a8c80"/><rect x="376.5" y="176.0" width="1.1" height="1.1" fill="#7fb0a3"/><rect x="378.2" y="138.1" width="1.0" height="1.0" fill="#6a9e90"/><rect x="377.6" y="163.9" width="0.8" height="0.8" fill="#b5d3cb"/><rect x="381.4" y="130.9" width="1.1" height="1.1" fill="#7fb0a3"/><rect x="375.6" y="130.8" width="0.8" height="0.8" fill="#7fb0a3"/><rect x="377.4" y="176.5" width="0.7" height="0.7" fill="#a3c9be"/><rect x="382.0" y="178.3" width="0.8" height="0.8" fill="#a3c9be"/><rect x="375.9" y="178.5" width="0.7" height="0.7" fill="#5a8c80"/><rect x="376.8" y="167.2" width="0.9" height="0.9" fill="#a3c9be"/><rect x="377.8" y="133.9" width="0.9" height="0.9" fill="#7fb0a3"/><rect x="375.1" y="150.7" width="1.1" height="1.1" fill="#7fb0a3"/><rect x="381.7" y="139.2" width="0.9" height="0.9" fill="#a3c9be"/><rect x="380.7" y="151.4" width="1.0" height="1.0" fill="#7fb0a3"/><rect x="376.0" y="157.2" width="0.8" height="0.8" fill="#5a8c80"/><rect x="376.9" y="167.8" width="0.7" height="0.7" fill="#5a8c80"/><rect x="379.2" y="141.4" width="0.7" height="0.7" fill="#5a8c80"/><rect x="377.3" y="153.1" width="0.9" height="0.9" fill="#7fb0a3"/><rect x="376.0" y="131.4" width="0.9" height="0.9" fill="#b5d3cb"/><rect x="377.2" y="146.1" width="0.7" height="0.7" fill="#b5d3cb"/><rect x="376.5" y="166.7" width="0.9" height="0.9" fill="#a3c9be"/><rect x="376.7" y="167.0" width="0.7" height="0.7" fill="#b5d3cb"/><rect x="374.7" y="140.6" width="1.0" height="1.0" fill="#5a8c80"/><rect x="381.7" y="148.9" width="1.0" height="1.0" fill="#a3c9be"/><rect x="380.6" y="135.2" width="0.8" height="0.8" fill="#5a8c80"/><rect x="374.6" y="178.3" width="0.8" height="0.8" fill="#a3c9be"/><rect x="379.1" y="145.7" width="1.0" height="1.0" fill="#a3c9be"/><rect x="377.2" y="170.2" width="1.1" height="1.1" fill="#7fb0a3"/><rect x="376.0" y="168.7" width="1.0" height="1.0" fill="#6a9e90"/><rect x="375.0" y="129.8" width="1.1" height="1.1" fill="#b5d3cb"/><rect x="376.9" y="180.9" width="0.7" height="0.7" fill="#7fb0a3"/><rect x="376.5" y="132.5" width="1.0" height="1.0" fill="#7fb0a3"/><rect x="378.2" y="166.3" width="0.8" height="0.8" fill="#5a8c80"/><rect x="376.3" y="150.5" width="0.8" height="0.8" fill="#b5d3cb"/><rect x="380.1" y="173.7" width="0.9" height="0.9" fill="#7fb0a3"/><rect x="376.7" y="158.6" width="0.9" height="0.9" fill="#a3c9be"/><rect x="380.0" y="138.8" width="0.8" height="0.8" fill="#6a9e90"/><rect x="376.3" y="136.3" width="0.8" height="0.8" fill="#b5d3cb"/><rect x="376.9" y="149.4" width="1.1" height="1.1" fill="#6a9e90"/><rect x="378.4" y="163.1" width="1.0" height="1.0" fill="#7fb0a3"/><rect x="381.9" y="133.5" width="0.8" height="0.8" fill="#5a8c80"/><rect x="380.8" y="177.4" width="0.9" height="0.9" fill="#7fb0a3"/><rect x="376.2" y="130.7" width="1.1" height="1.1" fill="#b5d3cb"/><rect x="376.0" y="132.1" width="0.8" height="0.8" fill="#b5d3cb"/>
<rect x="348.5" y="191.1" width="0.7" height="0.7" fill="#7fb0a3"/><rect x="343.5" y="185.0" width="0.8" height="0.8" fill="#a3c9be"/><rect x="329.9" y="184.9" width="1.1" height="1.1" fill="#5a8c80"/><rect x="350.2" y="195.2" width="1.1" height="1.1" fill="#5a8c80"/><rect x="358.7" y="194.9" width="1.0" height="1.0" fill="#a3c9be"/><rect x="346.9" y="185.4" width="0.9" height="0.9" fill="#b5d3cb"/><rect x="346.7" y="184.5" width="0.8" height="0.8" fill="#a3c9be"/><rect x="345.5" y="195.1" width="1.0" height="1.0" fill="#7fb0a3"/><rect x="334.1" y="184.4" width="0.8" height="0.8" fill="#b5d3cb"/><rect x="344.5" y="197.9" width="0.9" height="0.9" fill="#6a9e90"/><rect x="372.3" y="187.0" width="0.8" height="0.8" fill="#5a8c80"/><rect x="357.8" y="186.4" width="0.8" height="0.8" fill="#b5d3cb"/><rect x="357.1" y="200.9" width="1.0" height="1.0" fill="#6a9e90"/><rect x="335.1" y="190.0" width="1.1" height="1.1" fill="#5a8c80"/><rect x="366.8" y="189.3" width="0.7" height="0.7" fill="#b5d3cb"/><rect x="359.4" y="192.9" width="1.1" height="1.1" fill="#5a8c80"/><rect x="348.8" y="207.3" width="1.0" height="1.0" fill="#a3c9be"/><rect x="341.4" y="190.9" width="0.9" height="0.9" fill="#5a8c80"/><rect x="348.3" y="196.1" width="0.7" height="0.7" fill="#7fb0a3"/><rect x="356.9" y="197.5" width="1.0" height="1.0" fill="#6a9e90"/><rect x="348.9" y="188.9" width="1.0" height="1.0" fill="#5a8c80"/><rect x="331.4" y="187.5" width="0.9" height="0.9" fill="#5a8c80"/><rect x="351.5" y="185.1" width="0.7" height="0.7" fill="#6a9e90"/><rect x="362.0" y="186.2" width="1.0" height="1.0" fill="#b5d3cb"/><rect x="331.5" y="187.6" width="0.9" height="0.9" fill="#5a8c80"/><rect x="372.5" y="185.8" width="1.1" height="1.1" fill="#a3c9be"/><rect x="363.8" y="188.4" width="0.9" height="0.9" fill="#b5d3cb"/><rect x="350.0" y="200.3" width="1.1" height="1.1" fill="#b5d3cb"/><rect x="337.9" y="194.2" width="0.8" height="0.8" fill="#6a9e90"/><rect x="346.2" y="201.5" width="0.9" height="0.9" fill="#a3c9be"/><rect x="370.8" y="188.6" width="0.7" height="0.7" fill="#a3c9be"/><rect x="364.4" y="185.3" width="1.0" height="1.0" fill="#a3c9be"/><rect x="353.8" y="200.0" width="0.9" height="0.9" fill="#7fb0a3"/><rect x="354.9" y="193.9" width="1.0" height="1.0" fill="#7fb0a3"/><rect x="351.8" y="192.5" width="0.9" height="0.9" fill="#b5d3cb"/><rect x="337.1" y="192.0" width="1.0" height="1.0" fill="#5a8c80"/><rect x="351.6" y="208.6" width="1.0" height="1.0" fill="#6a9e90"/><rect x="327.1" y="184.1" width="0.9" height="0.9" fill="#a3c9be"/><rect x="355.5" y="189.6" width="1.0" height="1.0" fill="#b5d3cb"/><rect x="333.9" y="184.4" width="0.8" height="0.8" fill="#6a9e90"/><rect x="348.5" y="185.8" width="0.9" height="0.9" fill="#6a9e90"/><rect x="346.1" y="191.3" width="0.7" height="0.7" fill="#7fb0a3"/><rect x="358.2" y="199.5" width="1.1" height="1.1" fill="#a3c9be"/><rect x="358.3" y="196.2" width="1.0" height="1.0" fill="#b5d3cb"/><rect x="346.3" y="190.5" width="0.7" height="0.7" fill="#7fb0a3"/><rect x="351.3" y="201.6" width="0.8" height="0.8" fill="#b5d3cb"/><rect x="351.4" y="185.8" width="1.0" height="1.0" fill="#7fb0a3"/><rect x="361.8" y="184.2" width="1.0" height="1.0" fill="#5a8c80"/><rect x="339.2" y="185.4" width="1.0" height="1.0" fill="#b5d3cb"/><rect x="368.1" y="189.6" width="0.9" height="0.9" fill="#6a9e90"/><rect x="356.1" y="194.4" width="1.0" height="1.0" fill="#b5d3cb"/><rect x="349.6" y="198.6" width="0.7" height="0.7" fill="#7fb0a3"/><rect x="354.5" y="192.5" width="1.0" height="1.0" fill="#6a9e90"/><rect x="357.1" y="186.1" width="0.8" height="0.8" fill="#6a9e90"/><rect x="357.1" y="188.4" width="0.7" height="0.7" fill="#6a9e90"/><rect x="358.2" y="185.2" width="0.7" height="0.7" fill="#7fb0a3"/><rect x="331.6" y="184.9" width="0.9" height="0.9" fill="#7fb0a3"/><rect x="349.9" y="187.6" width="0.9" height="0.9" fill="#6a9e90"/><rect x="342.0" y="195.7" width="0.9" height="0.9" fill="#7fb0a3"/><rect x="338.8" y="191.8" width="0.9" height="0.9" fill="#a3c9be"/><rect x="349.8" y="191.9" width="1.0" height="1.0" fill="#7fb0a3"/><rect x="354.7" y="191.9" width="0.7" height="0.7" fill="#5a8c80"/><rect x="352.2" y="191.9" width="0.7" height="0.7" fill="#7fb0a3"/><rect x="343.4" y="186.6" width="1.0" height="1.0" fill="#6a9e90"/><rect x="351.8" y="199.9" width="0.9" height="0.9" fill="#6a9e90"/><rect x="337.6" y="188.6" width="1.0" height="1.0" fill="#7fb0a3"/><rect x="343.8" y="195.0" width="0.7" height="0.7" fill="#5a8c80"/><rect x="347.1" y="201.8" width="0.8" height="0.8" fill="#a3c9be"/><rect x="341.2" y="195.8" width="1.1" height="1.1" fill="#b5d3cb"/><rect x="352.1" y="207.9" width="1.1" height="1.1" fill="#5a8c80"/><rect x="363.1" y="188.7" width="0.9" height="0.9" fill="#5a8c80"/><rect x="355.0" y="187.5" width="0.8" height="0.8" fill="#5a8c80"/><rect x="351.4" y="191.4" width="0.8" height="0.8" fill="#b5d3cb"/><rect x="343.4" y="190.5" width="0.9" height="0.9" fill="#6a9e90"/><rect x="362.7" y="196.0" width="0.7" height="0.7" fill="#6a9e90"/><rect x="357.9" y="186.9" width="1.0" height="1.0" fill="#6a9e90"/><rect x="349.2" y="184.3" width="0.8" height="0.8" fill="#5a8c80"/><rect x="351.0" y="201.4" width="0.7" height="0.7" fill="#5a8c80"/><rect x="354.7" y="204.6" width="0.8" height="0.8" fill="#5a8c80"/><rect x="355.2" y="190.3" width="0.7" height="0.7" fill="#6a9e90"/><rect x="348.7" y="192.6" width="1.0" height="1.0" fill="#7fb0a3"/><rect x="361.6" y="188.3" width="1.0" height="1.0" fill="#5a8c80"/><rect x="348.8" y="201.1" width="1.1" height="1.1" fill="#5a8c80"/><rect x="350.5" y="210.8" width="0.9" height="0.9" fill="#7fb0a3"/><rect x="353.2" y="188.4" width="1.1" height="1.1" fill="#6a9e90"/><rect x="348.8" y="189.6" width="1.1" height="1.1" fill="#5a8c80"/><rect x="344.5" y="193.4" width="0.8" height="0.8" fill="#5a8c80"/><rect x="351.7" y="209.6" width="0.9" height="0.9" fill="#b5d3cb"/><rect x="357.9" y="190.9" width="1.0" height="1.0" fill="#5a8c80"/><rect x="329.1" y="186.1" width="0.9" height="0.9" fill="#5a8c80"/><rect x="355.0" y="187.0" width="1.0" height="1.0" fill="#a3c9be"/><rect x="345.6" y="189.8" width="0.7" height="0.7" fill="#6a9e90"/><rect x="349.5" y="199.5" width="0.8" height="0.8" fill="#6a9e90"/><rect x="349.4" y="192.1" width="0.8" height="0.8" fill="#b5d3cb"/><rect x="365.2" y="190.3" width="0.9" height="0.9" fill="#5a8c80"/><rect x="350.1" y="206.1" width="0.9" height="0.9" fill="#a3c9be"/><rect x="338.2" y="192.3" width="1.0" height="1.0" fill="#5a8c80"/><rect x="347.4" y="201.5" width="0.8" height="0.8" fill="#a3c9be"/><rect x="357.7" y="184.4" width="0.8" height="0.8" fill="#7fb0a3"/><rect x="338.5" y="186.8" width="0.8" height="0.8" fill="#6a9e90"/><rect x="365.2" y="189.7" width="1.1" height="1.1" fill="#5a8c80"/><rect x="352.5" y="204.4" width="0.7" height="0.7" fill="#5a8c80"/><rect x="353.8" y="191.3" width="0.8" height="0.8" fill="#6a9e90"/><rect x="349.7" y="199.3" width="1.0" height="1.0" fill="#5a8c80"/><rect x="338.3" y="188.5" width="0.7" height="0.7" fill="#b5d3cb"/><rect x="360.8" y="197.7" width="1.0" height="1.0" fill="#a3c9be"/><rect x="344.7" y="195.5" width="0.8" height="0.8" fill="#7fb0a3"/><rect x="351.5" y="197.3" width="0.7" height="0.7" fill="#6a9e90"/><rect x="332.3" y="186.6" width="0.9" height="0.9" fill="#a3c9be"/><rect x="349.7" y="198.5" width="0.9" height="0.9" fill="#6a9e90"/><rect x="347.8" y="195.6" width="0.7" height="0.7" fill="#b5d3cb"/><rect x="367.3" y="192.1" width="1.0" height="1.0" fill="#5a8c80"/><rect x="361.7" y="187.5" width="0.7" height="0.7" fill="#7fb0a3"/><rect x="345.9" y="199.2" width="1.1" height="1.1" fill="#5a8c80"/><rect x="354.7" y="195.0" width="0.7" height="0.7" fill="#7fb0a3"/><rect x="349.8" y="205.1" width="1.1" height="1.1" fill="#7fb0a3"/><rect x="356.8" y="201.2" width="0.7" height="0.7" fill="#b5d3cb"/><rect x="348.9" y="205.0" width="0.8" height="0.8" fill="#7fb0a3"/><rect x="335.2" y="184.9" width="1.0" height="1.0" fill="#7fb0a3"/><rect x="354.3" y="199.9" width="1.0" height="1.0" fill="#7fb0a3"/><rect x="354.4" y="185.1" width="1.0" height="1.0" fill="#7fb0a3"/><rect x="354.8" y="209.3" width="0.7" height="0.7" fill="#5a8c80"/><rect x="346.6" y="186.8" width="0.8" height="0.8" fill="#5a8c80"/><rect x="347.3" y="184.3" width="0.7" height="0.7" fill="#7fb0a3"/><rect x="336.9" y="187.3" width="0.7" height="0.7" fill="#5a8c80"/><rect x="348.5" y="204.5" width="0.9" height="0.9" fill="#7fb0a3"/><rect x="361.5" y="196.7" width="0.7" height="0.7" fill="#a3c9be"/><rect x="361.9" y="184.3" width="1.1" height="1.1" fill="#7fb0a3"/><rect x="362.5" y="188.6" width="1.1" height="1.1" fill="#5a8c80"/><rect x="354.7" y="196.1" width="0.8" height="0.8" fill="#6a9e90"/><rect x="342.7" y="191.7" width="1.1" height="1.1" fill="#b5d3cb"/><rect x="356.1" y="192.5" width="0.8" height="0.8" fill="#5a8c80"/><rect x="366.4" y="191.8" width="0.9" height="0.9" fill="#7fb0a3"/><rect x="339.2" y="195.6" width="0.7" height="0.7" fill="#b5d3cb"/><rect x="340.4" y="187.9" width="0.8" height="0.8" fill="#b5d3cb"/><rect x="365.9" y="189.5" width="0.9" height="0.9" fill="#6a9e90"/><rect x="356.3" y="202.6" width="0.8" height="0.8" fill="#5a8c80"/><rect x="353.0" y="198.7" width="0.7" height="0.7" fill="#a3c9be"/><rect x="352.1" y="197.1" width="0.8" height="0.8" fill="#b5d3cb"/><rect x="335.5" y="189.3" width="0.9" height="0.9" fill="#6a9e90"/><rect x="344.1" y="199.5" width="1.1" height="1.1" fill="#5a8c80"/><rect x="368.8" y="190.8" width="0.9" height="0.9" fill="#5a8c80"/><rect x="349.2" y="186.2" width="1.1" height="1.1" fill="#a3c9be"/><rect x="356.4" y="186.6" width="1.1" height="1.1" fill="#6a9e90"/><rect x="350.3" y="199.6" width="0.9" height="0.9" fill="#a3c9be"/><rect x="335.0" y="186.3" width="0.7" height="0.7" fill="#7fb0a3"/><rect x="353.9" y="207.9" width="1.0" height="1.0" fill="#5a8c80"/><rect x="345.9" y="187.3" width="0.9" height="0.9" fill="#7fb0a3"/><rect x="341.9" y="190.4" width="1.1" height="1.1" fill="#7fb0a3"/><rect x="345.7" y="196.3" width="0.9" height="0.9" fill="#6a9e90"/><rect x="337.1" y="185.1" width="0.9" height="0.9" fill="#a3c9be"/><rect x="350.2" y="186.8" width="0.7" height="0.7" fill="#a3c9be"/><rect x="363.9" y="186.9" width="0.9" height="0.9" fill="#a3c9be"/><rect x="338.9" y="187.4" width="1.0" height="1.0" fill="#5a8c80"/><rect x="334.4" y="190.6" width="0.7" height="0.7" fill="#6a9e90"/><rect x="349.4" y="209.1" width="0.8" height="0.8" fill="#7fb0a3"/><rect x="370.4" y="187.8" width="0.7" height="0.7" fill="#5a8c80"/><rect x="337.7" y="187.2" width="0.8" height="0.8" fill="#a3c9be"/><rect x="338.3" y="184.7" width="0.9" height="0.9" fill="#b5d3cb"/><rect x="342.7" y="188.6" width="0.7" height="0.7" fill="#5a8c80"/><rect x="359.4" y="189.8" width="0.9" height="0.9" fill="#5a8c80"/><rect x="339.1" y="190.6" width="0.7" height="0.7" fill="#6a9e90"/><rect x="345.5" y="195.4" width="0.7" height="0.7" fill="#6a9e90"/><rect x="348.1" y="198.0" width="0.8" height="0.8" fill="#b5d3cb"/><rect x="344.0" y="185.1" width="0.8" height="0.8" fill="#5a8c80"/><rect x="339.8" y="189.0" width="1.1" height="1.1" fill="#6a9e90"/><rect x="335.8" y="186.2" width="1.1" height="1.1" fill="#7fb0a3"/><rect x="334.8" y="187.8" width="1.1" height="1.1" fill="#6a9e90"/><rect x="341.4" y="184.3" width="1.0" height="1.0" fill="#b5d3cb"/><rect x="351.9" y="193.6" width="1.0" height="1.0" fill="#a3c9be"/><rect x="364.1" y="187.7" width="0.8" height="0.8" fill="#a3c9be"/><rect x="344.4" y="188.5" width="1.1" height="1.1" fill="#a3c9be"/><rect x="355.7" y="184.1" width="1.0" height="1.0" fill="#b5d3cb"/><rect x="343.8" y="190.7" width="1.0" height="1.0" fill="#a3c9be"/><rect x="354.8" y="208.7" width="0.7" height="0.7" fill="#a3c9be"/><rect x="351.7" y="198.6" width="0.8" height="0.8" fill="#b5d3cb"/><rect x="337.2" y="189.0" width="0.9" height="0.9" fill="#7fb0a3"/><rect x="360.9" y="189.4" width="1.1" height="1.1" fill="#7fb0a3"/><rect x="357.8" y="196.8" width="1.0" height="1.0" fill="#6a9e90"/><rect x="361.9" y="185.2" width="1.0" height="1.0" fill="#7fb0a3"/><rect x="350.7" y="197.8" width="0.7" height="0.7" fill="#a3c9be"/><rect x="369.1" y="188.0" width="1.0" height="1.0" fill="#b5d3cb"/><rect x="363.3" y="188.5" width="1.0" height="1.0" fill="#7fb0a3"/><rect x="356.1" y="185.0" width="0.9" height="0.9" fill="#7fb0a3"/><rect x="342.9" y="190.6" width="1.0" height="1.0" fill="#a3c9be"/><rect x="346.0" y="199.4" width="1.1" height="1.1" fill="#a3c9be"/><rect x="359.2" y="184.3" width="1.1" height="1.1" fill="#7fb0a3"/><rect x="348.7" y="185.3" width="0.7" height="0.7" fill="#7fb0a3"/><rect x="332.1" y="184.4" width="0.7" height="0.7" fill="#6a9e90"/><rect x="340.4" y="192.4" width="0.7" height="0.7" fill="#6a9e90"/>
<rect x="407.4" y="208.3" width="1.1" height="1.1" fill="#5a8c80"/><rect x="395.6" y="190.7" width="1.1" height="1.1" fill="#7fb0a3"/><rect x="395.6" y="196.5" width="0.8" height="0.8" fill="#b5d3cb"/><rect x="414.6" y="189.5" width="1.0" height="1.0" fill="#a3c9be"/><rect x="405.6" y="206.5" width="0.8" height="0.8" fill="#7fb0a3"/><rect x="398.0" y="189.2" width="1.0" height="1.0" fill="#b5d3cb"/><rect x="397.6" y="191.4" width="0.9" height="0.9" fill="#6a9e90"/><rect x="383.5" y="184.6" width="0.7" height="0.7" fill="#b5d3cb"/><rect x="412.3" y="193.6" width="1.1" height="1.1" fill="#7fb0a3"/><rect x="400.9" y="196.1" width="1.1" height="1.1" fill="#7fb0a3"/><rect x="419.3" y="188.2" width="0.9" height="0.9" fill="#a3c9be"/><rect x="387.9" y="189.6" width="0.9" height="0.9" fill="#b5d3cb"/><rect x="428.5" y="187.5" width="0.7" height="0.7" fill="#7fb0a3"/><rect x="402.0" y="199.1" width="1.0" height="1.0" fill="#7fb0a3"/><rect x="416.9" y="191.9" width="0.9" height="0.9" fill="#a3c9be"/><rect x="399.0" y="198.5" width="1.0" height="1.0" fill="#b5d3cb"/><rect x="414.5" y="184.2" width="1.0" height="1.0" fill="#5a8c80"/><rect x="403.8" y="189.1" width="0.8" height="0.8" fill="#a3c9be"/><rect x="403.4" y="194.4" width="0.7" height="0.7" fill="#6a9e90"/><rect x="393.2" y="193.0" width="0.7" height="0.7" fill="#5a8c80"/><rect x="408.7" y="192.6" width="1.0" height="1.0" fill="#b5d3cb"/><rect x="407.7" y="198.2" width="1.0" height="1.0" fill="#5a8c80"/><rect x="404.9" y="185.1" width="1.0" height="1.0" fill="#a3c9be"/><rect x="408.1" y="186.7" width="1.1" height="1.1" fill="#a3c9be"/><rect x="401.5" y="199.4" width="0.8" height="0.8" fill="#b5d3cb"/><rect x="406.1" y="196.1" width="1.1" height="1.1" fill="#b5d3cb"/><rect x="398.5" y="198.6" width="0.8" height="0.8" fill="#7fb0a3"/><rect x="399.5" y="194.1" width="0.9" height="0.9" fill="#7fb0a3"/><rect x="407.4" y="187.0" width="0.9" height="0.9" fill="#a3c9be"/><rect x="407.4" y="197.9" width="1.0" height="1.0" fill="#6a9e90"/><rect x="412.2" y="193.7" width="1.0" height="1.0" fill="#7fb0a3"/><rect x="381.1" y="184.1" width="0.7" height="0.7" fill="#b5d3cb"/><rect x="385.7" y="184.4" width="0.8" height="0.8" fill="#7fb0a3"/><rect x="388.0" y="189.5" width="0.7" height="0.7" fill="#b5d3cb"/><rect x="407.2" y="184.8" width="0.8" height="0.8" fill="#7fb0a3"/><rect x="405.0" y="195.8" width="0.7" height="0.7" fill="#7fb0a3"/><rect x="388.1" y="190.6" width="0.8" height="0.8" fill="#a3c9be"/><rect x="413.3" y="184.5" width="1.0" height="1.0" fill="#6a9e90"/><rect x="403.6" y="201.1" width="0.8" height="0.8" fill="#6a9e90"/><rect x="392.1" y="192.5" width="0.7" height="0.7" fill="#5a8c80"/><rect x="422.1" y="190.7" width="0.8" height="0.8" fill="#6a9e90"/><rect x="399.3" y="189.1" width="1.0" height="1.0" fill="#a3c9be"/><rect x="410.0" y="187.2" width="1.0" height="1.0" fill="#b5d3cb"/><rect x="400.8" y="196.8" width="0.8" height="0.8" fill="#a3c9be"/><rect x="403.4" y="191.7" width="0.9" height="0.9" fill="#7fb0a3"/><rect x="422.8" y="190.6" width="0.7" height="0.7" fill="#6a9e90"/><rect x="405.0" y="205.9" width="0.8" height="0.8" fill="#6a9e90"/><rect x="399.8" y="190.0" width="1.0" height="1.0" fill="#5a8c80"/><rect x="413.5" y="200.0" width="1.0" height="1.0" fill="#a3c9be"/><rect x="407.0" y="190.3" width="0.8" height="0.8" fill="#5a8c80"/><rect x="411.8" y="196.1" width="1.1" height="1.1" fill="#a3c9be"/><rect x="409.0" y="191.4" width="0.7" height="0.7" fill="#5a8c80"/><rect x="396.8" y="194.7" width="0.8" height="0.8" fill="#7fb0a3"/><rect x="421.2" y="190.4" width="0.7" height="0.7" fill="#6a9e90"/><rect x="404.9" y="201.3" width="0.9" height="0.9" fill="#6a9e90"/><rect x="427.6" y="184.7" width="0.8" height="0.8" fill="#5a8c80"/><rect x="428.1" y="186.7" width="0.7" height="0.7" fill="#a3c9be"/><rect x="401.7" y="200.7" width="0.8" height="0.8" fill="#5a8c80"/><rect x="420.2" y="188.3" width="1.1" height="1.1" fill="#7fb0a3"/><rect x="393.9" y="196.0" width="0.9" height="0.9" fill="#b5d3cb"/><rect x="421.3" y="193.5" width="1.0" height="1.0" fill="#7fb0a3"/><rect x="417.0" y="194.8" width="0.8" height="0.8" fill="#b5d3cb"/><rect x="395.3" y="186.5" width="1.0" height="1.0" fill="#5a8c80"/><rect x="413.5" y="196.5" width="0.8" height="0.8" fill="#7fb0a3"/><rect x="403.0" y="198.1" width="1.0" height="1.0" fill="#6a9e90"/><rect x="420.5" y="185.2" width="0.9" height="0.9" fill="#b5d3cb"/><rect x="389.7" y="188.5" width="1.1" height="1.1" fill="#6a9e90"/><rect x="406.0" y="197.3" width="0.7" height="0.7" fill="#6a9e90"/><rect x="407.6" y="196.2" width="0.9" height="0.9" fill="#a3c9be"/><rect x="411.3" y="190.6" width="1.1" height="1.1" fill="#7fb0a3"/><rect x="416.0" y="188.3" width="1.0" height="1.0" fill="#5a8c80"/><rect x="424.1" y="187.1" width="0.7" height="0.7" fill="#a3c9be"/><rect x="399.4" y="189.7" width="0.9" height="0.9" fill="#7fb0a3"/><rect x="396.5" y="187.0" width="1.0" height="1.0" fill="#a3c9be"/><rect x="403.9" y="199.7" width="0.8" height="0.8" fill="#a3c9be"/><rect x="409.8" y="185.3" width="1.0" height="1.0" fill="#5a8c80"/><rect x="403.3" y="189.2" width="0.9" height="0.9" fill="#b5d3cb"/><rect x="393.7" y="190.8" width="0.7" height="0.7" fill="#6a9e90"/><rect x="400.4" y="201.8" width="0.9" height="0.9" fill="#a3c9be"/><rect x="392.6" y="187.7" width="0.9" height="0.9" fill="#a3c9be"/><rect x="393.1" y="185.1" width="1.0" height="1.0" fill="#b5d3cb"/><rect x="406.5" y="197.7" width="0.9" height="0.9" fill="#6a9e90"/><rect x="412.1" y="201.2" width="0.8" height="0.8" fill="#6a9e90"/><rect x="402.8" y="191.8" width="1.1" height="1.1" fill="#7fb0a3"/><rect x="383.8" y="184.2" width="0.8" height="0.8" fill="#6a9e90"/><rect x="400.4" y="184.1" width="0.9" height="0.9" fill="#b5d3cb"/><rect x="410.3" y="196.9" width="0.9" height="0.9" fill="#b5d3cb"/><rect x="407.6" y="195.8" width="0.8" height="0.8" fill="#b5d3cb"/><rect x="412.5" y="192.2" width="1.0" height="1.0" fill="#b5d3cb"/><rect x="414.5" y="192.2" width="1.1" height="1.1" fill="#a3c9be"/><rect x="427.0" y="184.8" width="0.8" height="0.8" fill="#6a9e90"/><rect x="416.1" y="196.3" width="0.8" height="0.8" fill="#7fb0a3"/><rect x="415.2" y="194.2" width="1.0" height="1.0" fill="#b5d3cb"/><rect x="399.4" y="190.6" width="1.0" height="1.0" fill="#5a8c80"/><rect x="394.2" y="190.2" width="1.1" height="1.1" fill="#6a9e90"/><rect x="419.9" y="190.1" width="0.7" height="0.7" fill="#a3c9be"/><rect x="417.7" y="190.2" width="0.8" height="0.8" fill="#5a8c80"/><rect x="408.9" y="203.2" width="1.1" height="1.1" fill="#b5d3cb"/><rect x="407.1" y="207.1" width="1.1" height="1.1" fill="#7fb0a3"/><rect x="401.1" y="188.7" width="1.1" height="1.1" fill="#6a9e90"/><rect x="405.4" y="186.6" width="1.1" height="1.1" fill="#a3c9be"/><rect x="400.0" y="184.4" width="0.8" height="0.8" fill="#b5d3cb"/><rect x="404.6" y="187.3" width="1.0" height="1.0" fill="#6a9e90"/><rect x="428.2" y="186.4" width="1.1" height="1.1" fill="#6a9e90"/><rect x="399.1" y="194.1" width="0.7" height="0.7" fill="#a3c9be"/><rect x="423.8" y="187.4" width="1.1" height="1.1" fill="#a3c9be"/><rect x="418.4" y="185.2" width="0.9" height="0.9" fill="#b5d3cb"/><rect x="422.7" y="187.1" width="0.9" height="0.9" fill="#6a9e90"/><rect x="403.6" y="205.8" width="0.7" height="0.7" fill="#5a8c80"/><rect x="420.5" y="191.4" width="0.7" height="0.7" fill="#5a8c80"/><rect x="406.1" y="197.3" width="0.7" height="0.7" fill="#7fb0a3"/><rect x="416.9" y="196.3" width="1.1" height="1.1" fill="#6a9e90"/><rect x="407.6" y="193.9" width="0.8" height="0.8" fill="#b5d3cb"/><rect x="396.8" y="187.6" width="0.7" height="0.7" fill="#b5d3cb"/><rect x="418.7" y="193.1" width="1.0" height="1.0" fill="#5a8c80"/><rect x="398.1" y="197.3" width="0.7" height="0.7" fill="#6a9e90"/><rect x="412.5" y="201.3" width="0.9" height="0.9" fill="#6a9e90"/><rect x="400.7" y="185.7" width="0.9" height="0.9" fill="#a3c9be"/><rect x="410.4" y="198.5" width="0.7" height="0.7" fill="#6a9e90"/><rect x="402.9" y="199.7" width="0.9" height="0.9" fill="#7fb0a3"/><rect x="387.9" y="186.0" width="0.9" height="0.9" fill="#a3c9be"/><rect x="407.2" y="201.5" width="1.1" height="1.1" fill="#a3c9be"/><rect x="418.1" y="193.2" width="0.9" height="0.9" fill="#a3c9be"/><rect x="406.9" y="208.6" width="0.9" height="0.9" fill="#6a9e90"/><rect x="388.4" y="189.6" width="1.0" height="1.0" fill="#5a8c80"/><rect x="403.9" y="199.6" width="0.8" height="0.8" fill="#a3c9be"/><rect x="411.3" y="188.0" width="0.9" height="0.9" fill="#a3c9be"/><rect x="403.0" y="207.9" width="1.0" height="1.0" fill="#7fb0a3"/><rect x="397.3" y="188.8" width="1.1" height="1.1" fill="#a3c9be"/><rect x="387.7" y="189.2" width="0.7" height="0.7" fill="#b5d3cb"/><rect x="391.6" y="193.0" width="1.0" height="1.0" fill="#7fb0a3"/><rect x="401.8" y="202.7" width="0.8" height="0.8" fill="#a3c9be"/><rect x="398.1" y="197.6" width="1.0" height="1.0" fill="#b5d3cb"/><rect x="418.5" y="193.1" width="0.7" height="0.7" fill="#7fb0a3"/><rect x="388.7" y="187.9" width="0.9" height="0.9" fill="#7fb0a3"/><rect x="408.8" y="200.2" width="0.8" height="0.8" fill="#b5d3cb"/><rect x="385.2" y="184.8" width="0.7" height="0.7" fill="#6a9e90"/><rect x="409.7" y="189.0" width="0.9" height="0.9" fill="#b5d3cb"/><rect x="403.7" y="207.6" width="0.9" height="0.9" fill="#6a9e90"/><rect x="398.9" y="190.3" width="1.0" height="1.0" fill="#5a8c80"/><rect x="382.1" y="184.6" width="0.8" height="0.8" fill="#5a8c80"/><rect x="392.6" y="189.6" width="0.9" height="0.9" fill="#5a8c80"/><rect x="395.3" y="193.1" width="0.8" height="0.8" fill="#5a8c80"/><rect x="411.9" y="196.5" width="0.7" height="0.7" fill="#b5d3cb"/><rect x="431.7" y="184.3" width="0.8" height="0.8" fill="#a3c9be"/><rect x="406.9" y="193.7" width="1.0" height="1.0" fill="#6a9e90"/><rect x="416.3" y="186.5" width="1.0" height="1.0" fill="#a3c9be"/><rect x="386.0" y="184.5" width="0.7" height="0.7" fill="#a3c9be"/><rect x="426.6" y="187.3" width="0.8" height="0.8" fill="#5a8c80"/><rect x="408.1" y="184.1" width="1.1" height="1.1" fill="#6a9e90"/><rect x="406.8" y="187.1" width="1.0" height="1.0" fill="#a3c9be"/><rect x="397.6" y="185.1" width="1.1" height="1.1" fill="#5a8c80"/><rect x="395.3" y="193.1" width="0.9" height="0.9" fill="#5a8c80"/><rect x="401.5" y="192.8" width="1.0" height="1.0" fill="#5a8c80"/><rect x="400.7" y="195.3" width="0.7" height="0.7" fill="#6a9e90"/><rect x="401.8" y="199.4" width="1.1" height="1.1" fill="#5a8c80"/><rect x="415.6" y="196.5" width="0.7" height="0.7" fill="#b5d3cb"/><rect x="405.4" y="201.8" width="1.1" height="1.1" fill="#5a8c80"/><rect x="398.5" y="199.0" width="0.8" height="0.8" fill="#5a8c80"/><rect x="423.9" y="186.0" width="0.8" height="0.8" fill="#b5d3cb"/><rect x="411.4" y="199.7" width="0.7" height="0.7" fill="#6a9e90"/><rect x="408.0" y="198.5" width="0.8" height="0.8" fill="#a3c9be"/><rect x="415.9" y="188.2" width="0.8" height="0.8" fill="#5a8c80"/><rect x="387.0" y="188.2" width="1.0" height="1.0" fill="#a3c9be"/><rect x="404.3" y="186.4" width="0.9" height="0.9" fill="#5a8c80"/><rect x="404.1" y="197.2" width="1.1" height="1.1" fill="#6a9e90"/><rect x="399.8" y="198.3" width="1.1" height="1.1" fill="#6a9e90"/><rect x="400.0" y="193.4" width="0.9" height="0.9" fill="#5a8c80"/><rect x="410.5" y="185.6" width="0.9" height="0.9" fill="#6a9e90"/><rect x="418.2" y="191.6" width="0.9" height="0.9" fill="#a3c9be"/><rect x="425.6" y="189.5" width="0.9" height="0.9" fill="#5a8c80"/><rect x="412.9" y="194.2" width="1.0" height="1.0" fill="#7fb0a3"/><rect x="400.2" y="185.1" width="1.0" height="1.0" fill="#a3c9be"/><rect x="403.1" y="200.7" width="0.9" height="0.9" fill="#a3c9be"/><rect x="411.0" y="185.7" width="0.9" height="0.9" fill="#6a9e90"/><rect x="425.7" y="186.2" width="1.0" height="1.0" fill="#5a8c80"/><rect x="401.1" y="195.4" width="0.7" height="0.7" fill="#7fb0a3"/><rect x="411.6" y="196.7" width="1.0" height="1.0" fill="#5a8c80"/><rect x="402.3" y="197.0" width="1.0" height="1.0" fill="#7fb0a3"/><rect x="401.4" y="187.7" width="0.8" height="0.8" fill="#7fb0a3"/><rect x="419.4" y="195.0" width="0.9" height="0.9" fill="#7fb0a3"/><rect x="420.9" y="187.2" width="0.7" height="0.7" fill="#6a9e90"/><rect x="410.5" y="184.4" width="0.7" height="0.7" fill="#5a8c80"/><rect x="425.0" y="189.9" width="0.7" height="0.7" fill="#5a8c80"/><rect x="423.8" y="189.5" width="1.0" height="1.0" fill="#a3c9be"/><rect x="397.3" y="189.2" width="0.8" height="0.8" fill="#7fb0a3"/><rect x="394.3" y="192.6" width="0.9" height="0.9" fill="#a3c9be"/><rect x="409.7" y="198.1" width="0.7" height="0.7" fill="#5a8c80"/><rect x="396.6" y="190.8" width="1.0" height="1.0" fill="#5a8c80"/><rect x="391.1" y="185.4" width="0.9" height="0.9" fill="#b5d3cb"/>
<rect x="332.5" y="126" width="41" height="56.5" fill="#9c93d1"/>
<rect x="383" y="126" width="41" height="56.5" fill="#9c93d1"/>
<path d="M332.5,131 L343,130 L346,134 L349.5,138 L352,142 L354.5,146 L352,149.5 L356,152 L357,157 L354,160 L351,164 L347.5,169 L344,174 L340,177.5 L332.5,178 Z" fill="#fbf3e6"/>
<path d="M334.3,132 q1.6,1.60 0,3.20 q-1.6,1.60 0,3.20 q1.6,1.60 0,3.20 q-1.6,1.60 0,3.20 q1.6,1.60 0,3.20 q-1.6,1.60 0,3.20 q1.6,1.60 0,3.20 q-1.6,1.60 0,3.20 q1.6,1.60 0,3.20 q-1.6,1.60 0,3.20 q1.6,1.60 0,3.20 q-1.6,1.60 0,3.20 q1.6,1.60 0,3.20 q-1.6,1.60 0,3.20 q1.6,0.10 0,0.20" fill="none" stroke="#e4503a" stroke-width="1"/>
<path d="M337.7,131 q1.6,1.60 0,3.20 q-1.6,1.60 0,3.20 q1.6,1.60 0,3.20 q-1.6,1.60 0,3.20 q1.6,1.60 0,3.20 q-1.6,1.60 0,3.20 q1.6,1.60 0,3.20 q-1.6,1.60 0,3.20 q1.6,1.60 0,3.20 q-1.6,1.60 0,3.20 q1.6,1.60 0,3.20 q-1.6,1.60 0,3.20 q1.6,1.60 0,3.20 q-1.6,1.60 0,3.20 q1.6,0.60 0,1.20" fill="none" stroke="#e4503a" stroke-width="1"/>
<path d="M341.1,131 q1.6,1.60 0,3.20 q-1.6,1.60 0,3.20 q1.6,1.60 0,3.20 q-1.6,1.60 0,3.20 q1.6,1.60 0,3.20 q-1.6,1.60 0,3.20 q1.6,1.60 0,3.20 q-1.6,1.60 0,3.20 q1.6,1.60 0,3.20 q-1.6,1.60 0,3.20 q1.6,1.60 0,3.20 q-1.6,1.60 0,3.20 q1.6,1.60 0,3.20 q-1.6,1.60 0,3.20 q1.6,0.10 0,0.20" fill="none" stroke="#e4503a" stroke-width="1"/>
<path d="M344.5,133 q1.6,1.60 0,3.20 q-1.6,1.60 0,3.20 q1.6,1.60 0,3.20 q-1.6,1.60 0,3.20 q1.6,1.60 0,3.20 q-1.6,1.60 0,3.20 q1.6,1.60 0,3.20 q-1.6,1.60 0,3.20 q1.6,1.60 0,3.20 q-1.6,1.60 0,3.20 q1.6,1.60 0,3.20 q-1.6,1.60 0,3.20 q1.6,0.80 0,1.60" fill="none" stroke="#e4503a" stroke-width="1"/>
<path d="M347.9,138 q1.6,1.60 0,3.20 q-1.6,1.60 0,3.20 q1.6,1.60 0,3.20 q-1.6,1.60 0,3.20 q1.6,1.60 0,3.20 q-1.6,1.60 0,3.20 q1.6,1.60 0,3.20 q-1.6,1.60 0,3.20 q1.6,1.60 0,3.20 q-1.6,0.10 0,0.20" fill="none" stroke="#e4503a" stroke-width="1"/>
<path d="M351.3,146 q1.6,1.60 0,3.20 q-1.6,1.60 0,3.20 q1.6,1.60 0,3.20 q-1.6,1.60 0,3.20 q1.6,0.60 0,1.20" fill="none" stroke="#e4503a" stroke-width="1"/>
<path d="M331.5,126.3 H374.5" stroke="#2e2e3e" stroke-width="1.3" stroke-dasharray="1.4 .9"/>
<path d="M331.5,182.3 H374.5" stroke="#2e2e3e" stroke-width="1.3" stroke-dasharray="1.4 .9"/>
<path d="M331.5,124.9 H374.5 M331.5,183.8 H374.5" stroke="#6c6c78" stroke-width=".6"/>
<path d="M382,126.3 H425" stroke="#2e2e3e" stroke-width="1.3" stroke-dasharray="1.4 .9"/>
<path d="M382,182.3 H425" stroke="#2e2e3e" stroke-width="1.3" stroke-dasharray="1.4 .9"/>
<path d="M382,124.9 H425 M382,183.8 H425" stroke="#6c6c78" stroke-width=".6"/>
<path d="M330.6,122.4 V170 M328.3,122.4 H332.90000000000003" stroke="#444" stroke-width=".8" fill="none"/>
<circle cx="330.6" cy="148.8" r="2.4" fill="#fff" stroke="#222" stroke-width=".8"/><path d="M329.1,150.3 L332.1,147.3" stroke="#111" stroke-width="1.1"/>
<circle cx="330.6" cy="169.3" r="2.4" fill="#fff" stroke="#222" stroke-width=".8"/><path d="M329.1,170.8 L332.1,167.8" stroke="#111" stroke-width="1.1"/>
<path d="M427,122.4 V170 M424.7,122.4 H429.3" stroke="#444" stroke-width=".8" fill="none"/>
<circle cx="427" cy="148.8" r="2.4" fill="#fff" stroke="#222" stroke-width=".8"/><path d="M425.5,150.3 L428.5,147.3" stroke="#111" stroke-width="1.1"/>
<circle cx="427" cy="169.3" r="2.4" fill="#fff" stroke="#222" stroke-width=".8"/><path d="M425.5,170.8 L428.5,167.8" stroke="#111" stroke-width="1.1"/>
</g>
<!--SILO-->
<defs>
<linearGradient id="gOrange" x1="0" x2="1" y1="0" y2="0"><stop offset="0" stop-color="#ef9426"/><stop offset=".1" stop-color="#f4a23a"/><stop offset=".35" stop-color="#f8c48c"/><stop offset=".6" stop-color="#fde8d2"/><stop offset=".74" stop-color="#ffffff"/><stop offset=".85" stop-color="#fde2c6"/><stop offset=".95" stop-color="#f2a448"/><stop offset="1" stop-color="#ea9028"/></linearGradient>
</defs>
<!-- Ground -->
<path d="M557,321 H789" stroke="#8e8e8e" stroke-width="1"/>
<!-- Silo -->
<g id="silo">
<rect x="618.3" y="94" width="104.4" height="227" fill="#fff"/>
<rect x="621.8" y="140" width="98.4" height="166" fill="#58b5a1"/>
<rect x="618.3" y="94" width="104.4" height="50.5" fill="url(#gOrange)"/>
<path d="M618.3,144.3 Q628,141.2 642,142.4 T668,141.2 T698,142.6 T722.7,144 V146.5 H720.2 V150 H621.8 V146.5 H618.3 Z" fill="#58b5a1"/>
<path d="M618.3,143.9 Q628,140.8 642,142 T668,140.8 T698,142.2 T722.7,143.6" fill="none" stroke="#d98a2c" stroke-width="1.6" opacity=".55"/><rect x="618.3" y="144.6" width="3.4" height="6" fill="#fff"/><rect x="720.3" y="144.4" width="2.4" height="6" fill="#fff"/>
<rect x="616.8" y="90.8" width="107" height="4" fill="url(#gOrange)" stroke="#b8701c" stroke-width=".6"/>
<path d="M618.3,95 V321 M722.7,95 V321" stroke="#6c7c78" stroke-width=".7"/>
<path d="M621.9,145 V306 M720.1,145 V306" stroke="#2f6e60" stroke-width=".6"/>
<!-- cone -->
<path d="M670,207 L664.5,216.5 L643.5,264 L622.2,306 H717.8 L697,264 L675.5,216.5 Z" fill="#fff"/>
<path d="M664.7,216.2 L643.6,264 L622,306.3 M675.3,216.2 L696.9,264 L718,306.3" stroke="#0c0c0c" stroke-width="2.7" fill="none" stroke-linejoin="round"/>
<path d="M670,206.6 L664.4,217 H675.6 Z" fill="#fff" stroke="#222" stroke-width=".5"/>
<path d="M663.6,216.8 H676.4 M643,264 H697.5 M621.5,305 H718.5" stroke="#0c0c0c" stroke-width="1.1"/>
<rect x="618.4" y="306" width="5" height="15" fill="#0c0c0c"/>
<rect x="718.2" y="306" width="4.8" height="15" fill="#0c0c0c"/>
<text class="c" x="670.8" y="163.1" style="fill:#fff">Baustoffsilo</text>
<text class="c" x="670.8" y="175.3" style="fill:#fff">für</text>
<text class="c" x="670.8" y="187.5" style="fill:#fff">Steinkohlen-</text>
<text class="c" x="670.8" y="199.5" style="fill:#fff">flugasche</text>
</g>
<!-- lines below ground -->
<path d="M643.4,321.5 V341.7 M653.7,321.5 V341.7 M688,321.5 V341.7 M698,321.5 V341.7" stroke="#777" stroke-width=".8" fill="none"/>
<!-- Machinery in cone -->
<g id="mach">
<g stroke="#a89e14" stroke-width="2.9" fill="none" stroke-linecap="round" stroke-linejoin="round">
<path d="M664.5,254.5 L651,249 M678.5,254.5 L690,249" />
<path d="M663,297 L648,291.3 L634,284.5 M679.5,297 L694,291.3 L706,284.5"/>
<path d="M662,263.5 V306 M681.6,263.5 V306"/>
<path d="M662,264.2 H681.6"/>
<path d="M662,306 L655.5,308.3 L641,311 L633.5,313.8 M681.6,306 L688,308.3 L701,311 L708.5,313.8"/>
</g><g stroke="#f5ec4a" stroke-width="1.7" fill="none" stroke-linecap="round" stroke-linejoin="round">
<path d="M664.5,254.5 L651,249 M678.5,254.5 L690,249" />
<path d="M663,297 L648,291.3 L634,284.5 M679.5,297 L694,291.3 L706,284.5"/>
<path d="M662,263.5 V306 M681.6,263.5 V306"/>
<path d="M662,264.2 H681.6"/>
<path d="M662,306 L655.5,308.3 L641,311 L633.5,313.8 M681.6,306 L688,308.3 L701,311 L708.5,313.8"/>
</g>
</g>
<!-- nozzles -->
<g fill="#f4ea2a" stroke="#a89e14" stroke-width=".5" stroke-linejoin="round">
<path d="M652.5,249.6 L644.5,245 L640.3,247.6 L644,251.6 Z"/>
<path d="M688.5,249.6 L696.5,245 L700.7,247.6 L697,251.6 Z"/>
<path d="M635.5,285.2 L627.5,279.3 L624,282 L628,286.2 Z"/>
<path d="M704.5,285.2 L712.5,279.3 L716,282 L712,286.2 Z"/>
</g>
<!-- teal units -->
<g fill="#74bfae" stroke="#2f6e60" stroke-width=".6" stroke-linejoin="round">
<rect x="674" y="229" width="3.8" height="6.2"/>
<rect x="665.5" y="227.3" width="8.7" height="4" fill="#9ccfc2"/>
<rect x="667.8" y="231.2" width="6.3" height="19.6"/>
<path d="M664.3,251 H679 V257.5 Q679,260.3 677,260.8 V263 Q677,264.8 675,264.8 H669 Q667,264.8 667,263 V260.8 Q664.3,260.3 664.3,257.5 Z"/>
<path d="M665,254.3 H678.4 M667,260.8 H677" fill="none" stroke-width=".5"/>
<rect x="674.2" y="271.5" width="3.8" height="7.5"/>
<rect x="664.3" y="270" width="10" height="3.4" fill="#a9b9b6"/>
<rect x="666.9" y="273.4" width="7.3" height="21"/>
<path d="M662.8,294.4 H679.6 V303 Q679.6,306 676.5,307.5 Q674.5,310.5 671.2,310.5 Q668,310.5 666,307.5 Q662.8,306 662.8,303 Z"/>
<rect x="670.2" y="310.5" width="2.4" height="14"/>
<rect x="666.7" y="313.2" width="9.4" height="1.9"/>
<rect x="668" y="324" width="6.8" height="1.6"/>
<!-- hanging funnels -->
<path d="M644.2,306 H653.6 V322.5 L650.6,330.8 H647.4 L644.2,322.5 Z"/>
<path d="M688,306 H697.6 V322.5 L694.5,330.8 H691.2 L688,322.5 Z"/>
<rect x="640.7" y="304.8" width="13" height="2.6"/>
<rect x="687.9" y="304.8" width="13" height="2.6"/>
<path d="M645,324.5 H652.8 M688.8,324.5 H696.8" fill="none" stroke-width=".5"/>
<!-- small valves -->
<rect x="631" y="321" width="1.6" height="8.5"/>
<rect x="629.2" y="318" width="5.2" height="4.6"/>
<rect x="628.2" y="322.3" width="7.2" height="1.5"/>
<rect x="709.4" y="321" width="1.6" height="8.5"/>
<rect x="707.6" y="318" width="5.2" height="4.6"/>
<rect x="706.6" y="322.3" width="7.2" height="1.5"/>
</g>
<g fill="#f4ea2a" stroke="#a89e14" stroke-width=".5"><rect x="629.6" y="313.3" width="4.4" height="4.8" rx="1.6"/><rect x="708" y="313.3" width="4.4" height="4.8" rx="1.6"/></g>
<!-- silo top motor, frame, yellow device -->
<g id="silotop">
<path d="M630.3,89.3 L666,85 M677.4,85 L718,89.3" stroke="#3f665c" stroke-width="1.5" fill="none"/><path d="M632,90.6 L666,88.6 M677.4,88.6 L716,90.6" stroke="#6b8f86" stroke-width=".7" fill="none"/>
<path d="M666,70 Q666,68.4 668,68.4 H675.5 L677.4,70.5 V90.4 H666 Z" fill="#4f9e8b" stroke="#2f6e60" stroke-width=".6"/>
<rect x="672.6" y="77" width="2.6" height="4" fill="#e8f5f1"/>
<path d="M666,84.5 H677.4" stroke="#2f6e60" stroke-width=".6"/>
<rect x="702.6" y="72.5" width="12.2" height="15.5" fill="#f4ea1e" stroke="#c9bd12" stroke-width=".5"/>
<rect x="714.6" y="70.9" width="5.1" height="7.3" fill="#f4ea1e" stroke="#c9bd12" stroke-width=".5"/>
<rect x="701.6" y="76.5" width="14.2" height="1.2" fill="#d9cc1a"/>
<rect x="628.5" y="88.8" width="5" height="1.8" fill="#456e64"/><rect x="714.5" y="88.8" width="5" height="1.8" fill="#456e64"/>
</g>
<!-- Distribution arrows -->
<g id="arrows" stroke="#111" stroke-width="1.3" fill="none">
<path d="M586.5,358 V341.8 H756 V358 M672.9,341.8 V358"/>
</g>
<g fill="#111"><path d="M583,355.5 L586.5,365 L590,355.5 Z"/><path d="M669.4,355.5 L672.9,365 L676.4,355.5 Z"/><path d="M752.5,355.5 L756,365 L759.5,355.5 Z"/></g>
<text x="434" y="469.5">Silotransporte:</text>
<text class="c" x="587.5" y="469.5">Schiff</text>
<text class="c" x="674.3" y="469.5">Bahn</text>
<text class="c" x="758" y="469.5">LKW</text>
<!--TRANS-->
<!-- Schiff -->
<g id="schiff">
<path d="M545.8,430 Q552,429 559.5,434.5 Q566,438 574,433.5 L612,433 Q618,434 622,431.5 Q626.5,428.5 631,429.5 V453.2 H545.8 Z" fill="#a9d3f4" stroke="#6d9cc4" stroke-width=".6"/>
<path d="M587.5,372.8 V394 M584,378.2 H592" stroke="#111" stroke-width="1.1" fill="none"/>
<rect x="580.7" y="389.2" width="14.1" height="5" fill="#fff" stroke="#111" stroke-width=".7"/>
<path d="M570,394 H603 V398.3 H606.8 V401.8 H613.6 V406.7 H610.7 V419 H562.3 V406.7 H559.4 V401.8 H566.2 V398.3 H570 Z" fill="#f39a1e" stroke="#6a4208" stroke-width=".6"/>
<path d="M573,414.5 L575.5,412 L586.5,409.8 L598,412 L600.5,414.5 L586.5,412.3 Z" fill="#fff" stroke="#6a4208" stroke-width=".4"/>
<path d="M559.4,418.3 L586.5,412.4 L613.6,418.3 V432 H559.4 Z" fill="#0a0a0a"/>
<path d="M559.4,431.5 H612.8 V437 Q600,445 586,444.6 Q572,445 559.4,437 Z" fill="#1b63b3"/>
<path d="M559.4,431.2 H612.8 V432.4 Q600,430.6 586,431 Q574,431 569,433.3 Q564,435.8 559.4,432.6 Z" fill="#0a0a0a"/>
<path d="M559.6,432.8 Q564,435.6 569,433.3 Q572,431.8 575,431.6 Q570,434.5 566,435.3 Q562,435.6 559.6,434 Z" fill="#fff"/>
</g>
<!-- Bahn -->
<g id="bahn">
<path d="M662,430 H684 L689,451.3 H657 Z" fill="#fff"/>
<path d="M655.2,430 H662 L659,451.3 H641.6 Z" fill="#2a9464" stroke="#1c6a48" stroke-width=".5"/>
<path d="M659.6,430 H662 L659,451.3 H652.2 Z" fill="#a6dfc6"/>
<path d="M684,430 H690.5 L702,451.3 H688 Z" fill="#2a9464" stroke="#1c6a48" stroke-width=".5"/>
<path d="M684,430 H686.3 L694.5,451.3 H688 Z" fill="#a6dfc6"/>
<path d="M643.6,448.3 L641.6,451.3 H659 L659.4,448.3 Z M687.4,448.3 L688,451.3 H702 L700.4,448.3 Z" fill="#a6dfc6" stroke="#1c6a48" stroke-width=".4"/>
<g stroke="#2a9464" stroke-width="1.8" fill="none">
<path d="M661.6,433 H684.7"/><path d="M661,437.2 H685.6"/><path d="M660.4,441.8 H686.6"/>
</g>
<path d="M661.4,434.7 H685 M660.8,439 H686 M660.2,443.6 H687" stroke="#a6dfc6" stroke-width="1.5"/>
<rect x="655" y="429.5" width="2.6" height="12" fill="#fff" stroke="#555" stroke-width=".5"/>
<rect x="688" y="429.5" width="2.6" height="12" fill="#fff" stroke="#555" stroke-width=".5"/>
<rect x="648.4" y="412.5" width="49.1" height="16.8" fill="#9b9b9b" stroke="#4a4a4a" stroke-width=".6"/>
<path d="M671.7,381.5 L696.9,394 V408.6 L678.5,425 H667.8 L649.4,408.6 V394 Z" fill="#e2111b"/>
<path d="M649.4,408.6 H696.9 L678.5,425 H667.8 Z" fill="#b50d17"/>
<path d="M649.4,394 H696.9" stroke="#b50d17" stroke-width=".7"/>
<path d="M671.7,381.5 L696.9,394 V408.6 L678.5,425 H667.8 L649.4,408.6 V394 Z" fill="none" stroke="#7a0a10" stroke-width=".5"/>
</g>
<!-- LKW -->
<g id="lkw">
<path d="M731,418 L713.7,452.2 H800 L780.6,413.5 Z" fill="#d2d2d2" stroke="#8a8a8a" stroke-width=".6"/>
<path d="M757.7,441.6 V452" stroke="#fff" stroke-width="1.6" stroke-dasharray="2.4 2.2"/>
<rect x="732" y="433" width="13.7" height="10.5" fill="#0a0a0a"/>
<rect x="766.5" y="433" width="13.3" height="10.5" fill="#0a0a0a"/>
<rect x="737" y="436" width="1.6" height="7.5" fill="#d2d2d2"/><rect x="740.4" y="438" width="1.2" height="5.5" fill="#d2d2d2"/>
<rect x="771" y="436" width="1.6" height="7.5" fill="#d2d2d2"/><rect x="774.4" y="438" width="1.2" height="5.5" fill="#d2d2d2"/>
<path d="M748.6,381 V379.2 H762 V381 Q769,381.5 772,388.2 H738 Q741,381.5 748.6,381 Z" fill="#f39a1e" stroke="#6a4208" stroke-width=".5"/>
<rect x="748.6" y="378.8" width="13.4" height="1.8" fill="#8a6a4a"/>
<path d="M734,388 H777 Q780,388 780,391 V433 H764.5 V439.6 H746.7 V433 H731 V391 Q731,388 734,388 Z" fill="#4fb09a" stroke="#1e5a4c" stroke-width=".6"/>
<rect x="733.7" y="391" width="44" height="13.7" rx="2.2" fill="#5b79c9" stroke="#2a3a7a" stroke-width=".5"/>
<rect x="743.8" y="408" width="23.6" height="10.3" fill="#fff" stroke="#555" stroke-width=".4"/>
<rect x="743.8" y="413.5" width="23.6" height="4.8" fill="#b9b9b9"/>
<rect x="728.7" y="421.6" width="53.3" height="8.6" rx="3.6" fill="#a9a9a9" stroke="#5a5a5a" stroke-width=".5"/>
<circle cx="737" cy="425.8" r="3.3" fill="#fff" stroke="#444" stroke-width=".5"/>
<circle cx="771.3" cy="425.8" r="3.3" fill="#fff" stroke="#444" stroke-width=".5"/>
<rect x="724" y="393" width="4.7" height="8.8" rx="1.6" fill="#c9c9c9" stroke="#444" stroke-width=".5"/>
<rect x="782.6" y="393" width="4.7" height="8.8" rx="1.6" fill="#c9c9c9" stroke="#444" stroke-width=".5"/>
<path d="M726.5,401.8 Q727,405 731,405.5 M785,401.8 Q784.5,405 780,405.5" stroke="#333" stroke-width=".7" fill="none"/>
</g>

</svg>
</body></html>
